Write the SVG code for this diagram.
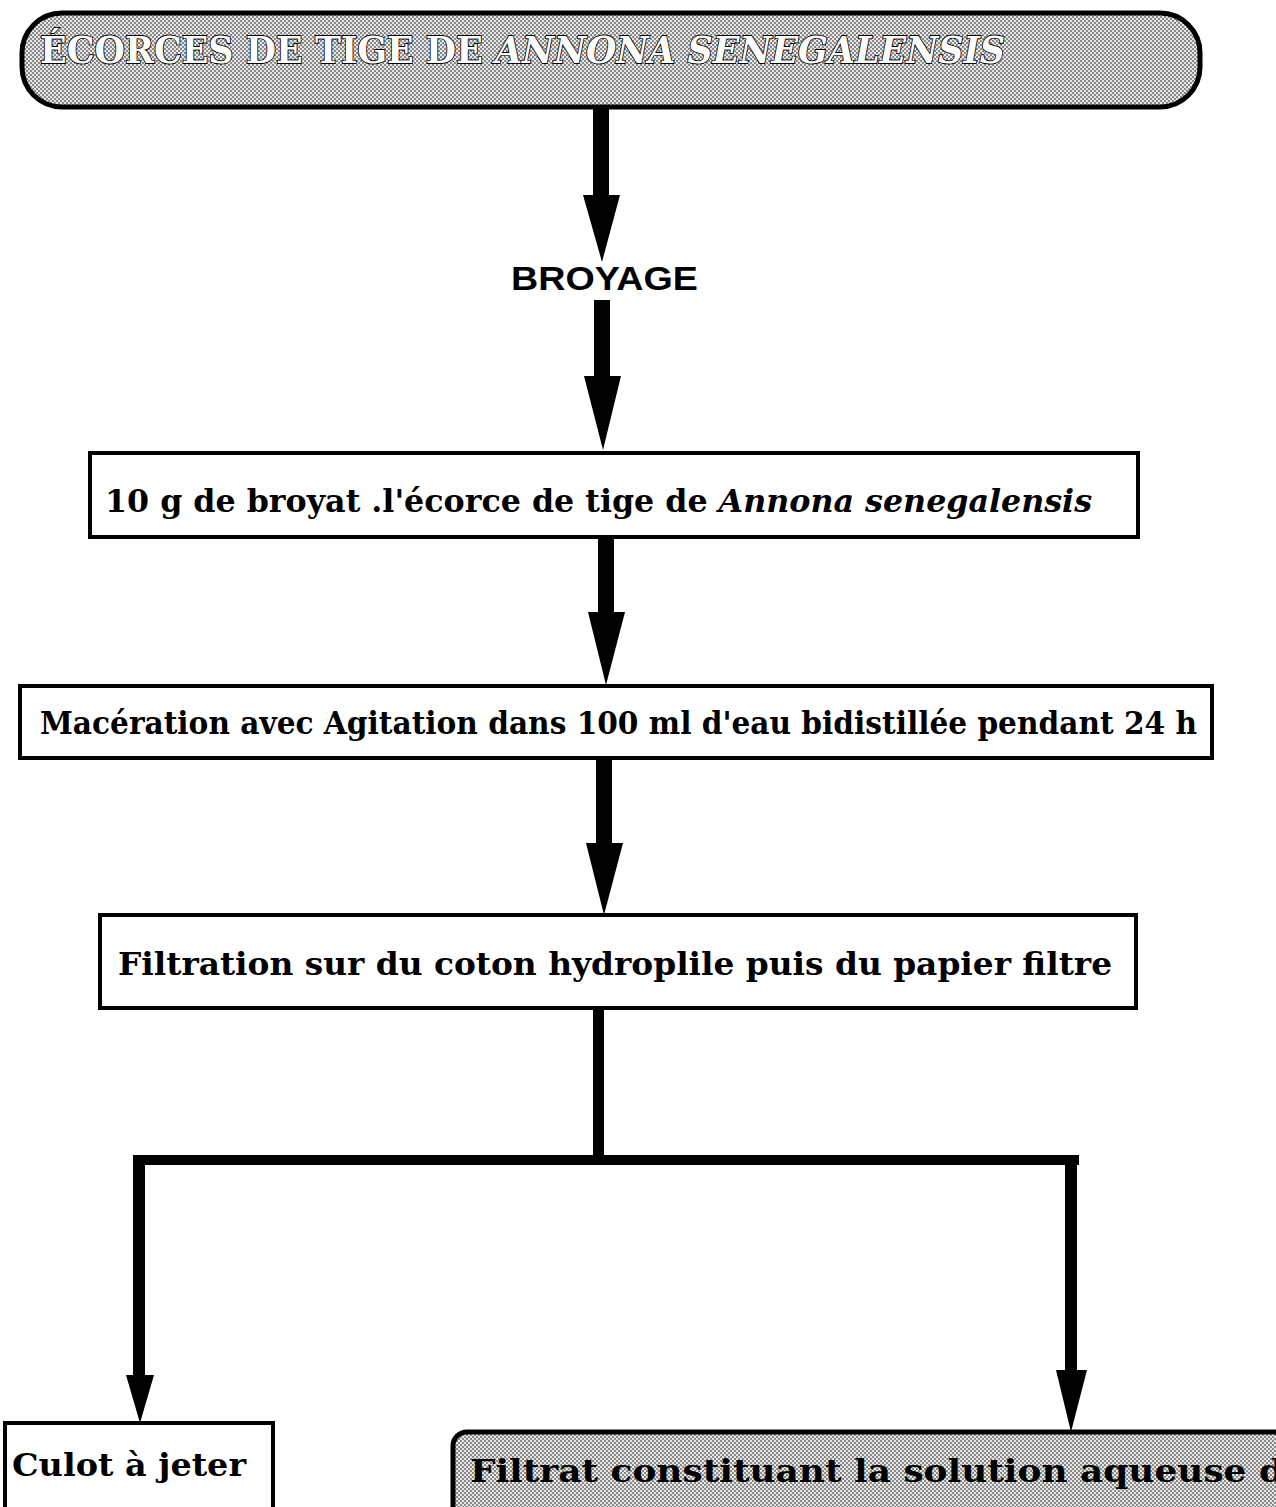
<svg xmlns="http://www.w3.org/2000/svg" width="1276" height="1507" viewBox="0 0 1276 1507">
<defs>
<pattern id="dots" width="4" height="4" patternUnits="userSpaceOnUse">
<rect width="4" height="4" fill="#e6e6e6"/>
<rect x="0" y="0" width="2" height="2" fill="#8a8a8a"/>
<rect x="2" y="2" width="2" height="2" fill="#8a8a8a"/>
</pattern>
</defs>
<style>
.box{fill:#fff;stroke:#000;stroke-width:4}
.gbox{fill:url(#dots);stroke:#000;stroke-width:5}
.t{font-family:"DejaVu Serif Condensed","DejaVu Serif","Liberation Serif",serif;font-stretch:condensed;font-weight:bold;font-size:32px;fill:#000}
.title{font-family:"DejaVu Serif","Liberation Serif",serif;font-weight:bold;font-size:38px;fill:#fff;stroke:#000;stroke-width:1.8;paint-order:stroke}
.lbl{font-family:"Liberation Sans",Arial,sans-serif;font-weight:bold;font-size:34px;fill:#000}
.ln{fill:#000}
</style>
<g id="n1">
<rect class="gbox" x="22" y="13" width="1178" height="94" rx="40" ry="40"/>
<text class="title" x="40" y="63" textLength="965" lengthAdjust="spacingAndGlyphs">ÉCORCES DE TIGE DE <tspan font-style="italic">ANNONA SENEGALENSIS</tspan></text>
</g>
<g id="n2">
<rect class="box" x="90" y="453" width="1048" height="84"/>
<text class="t" x="105" y="512" textLength="987" lengthAdjust="spacingAndGlyphs">10 g de broyat .l'écorce de tige de <tspan font-style="italic">Annona senegalensis</tspan></text>
</g>
<g id="n3">
<rect class="box" x="20" y="686" width="1192" height="72"/>
<text class="t" x="40" y="734" textLength="1157" lengthAdjust="spacingAndGlyphs">Macération avec Agitation dans 100 ml d'eau bidistillée pendant 24 h</text>
</g>
<g id="n4">
<rect class="box" x="100" y="915" width="1036" height="93"/>
<text class="t" x="118" y="975" textLength="994" lengthAdjust="spacingAndGlyphs">Filtration sur du coton hydroplile puis du papier filtre</text>
</g>
<g id="n5">
<rect class="box" x="5" y="1423" width="268" height="100"/>
<text class="t" x="12" y="1476" textLength="234" lengthAdjust="spacingAndGlyphs">Culot à jeter</text>
</g>
<g id="n6">
<rect class="gbox" x="453" y="1432" width="900" height="110" rx="14" ry="14"/>
<text class="t" x="470" y="1482" textLength="814" lengthAdjust="spacingAndGlyphs">Filtrat constituant la solution aqueuse d</text>
</g>
<g id="edges">
<text class="lbl" x="511" y="290" textLength="187" lengthAdjust="spacingAndGlyphs">BROYAGE</text>
<rect class="ln" x="593" y="107" width="16" height="90"/>
<polygon class="ln" points="583,195 620,195 602,262"/>
<rect class="ln" x="594" y="300" width="16" height="78"/>
<polygon class="ln" points="584,376 621,376 603,450"/>
<rect class="ln" x="598" y="537" width="16" height="77"/>
<polygon class="ln" points="588,612 625,612 606,685"/>
<rect class="ln" x="596" y="758" width="16" height="87"/>
<polygon class="ln" points="586,843 623,843 604,915"/>
<rect class="ln" x="593" y="1008" width="11" height="150"/>
<rect class="ln" x="133" y="1155" width="946" height="10"/>
<rect class="ln" x="133" y="1155" width="12" height="222"/>
<polygon class="ln" points="126,1375 154,1375 140,1423"/>
<rect class="ln" x="1065" y="1155" width="12" height="217"/>
<polygon class="ln" points="1056,1370 1087,1370 1071,1432"/>
</g>
</svg>
